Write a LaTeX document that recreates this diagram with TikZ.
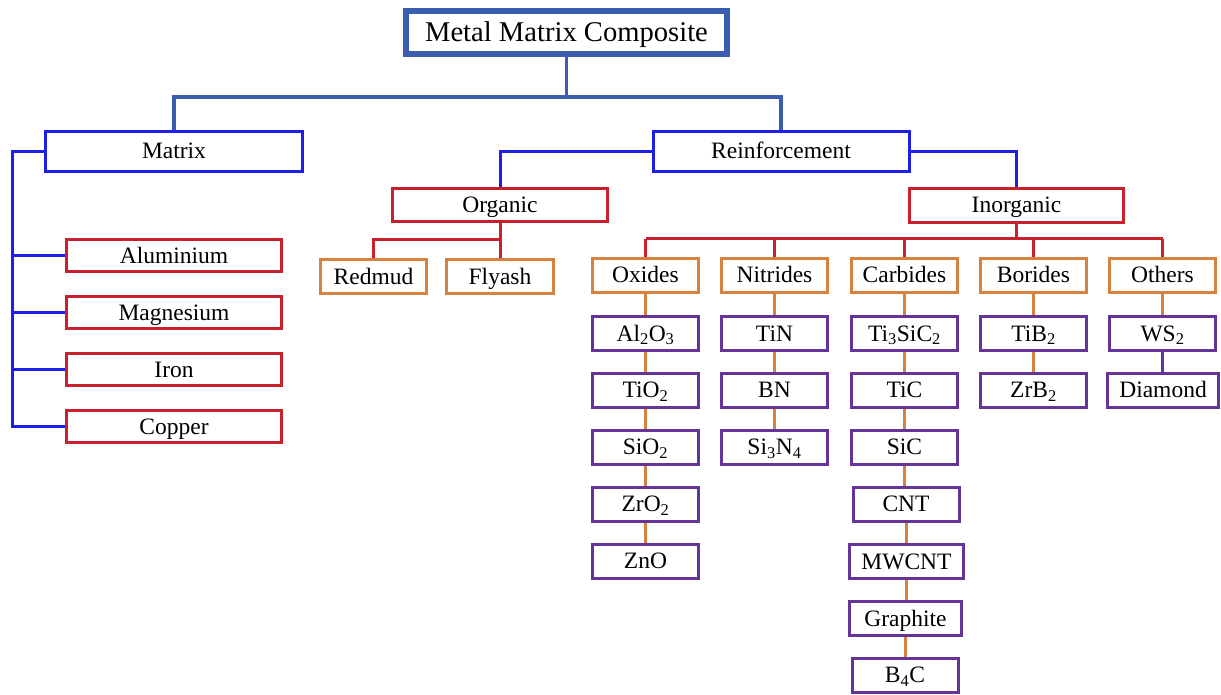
\documentclass[tikz,border=0pt]{standalone}
\usepackage{fontspec}
\setmainfont{Liberation Serif}
\definecolor{topblue}{RGB}{58,93,176}
\definecolor{mblue}{RGB}{30,30,228}
\definecolor{mred}{RGB}{200,32,44}
\definecolor{morange}{RGB}{214,130,62}
\definecolor{mpurple}{RGB}{102,52,152}
\begin{document}
\begin{tikzpicture}[x=1pt,y=-1pt,
  box/.style={draw, fill=white, inner sep=0pt, line width=3pt, minimum height=34pt,
              text height=17pt, text depth=2pt,
              font=\fontsize{23.5}{28}\selectfont},
  topbox/.style={box, draw=topblue, line width=5.5pt, minimum width=321pt, minimum height=43pt,
              text height=21pt, text depth=2pt,
              font=\fontsize{28.6}{34}\selectfont},
  bluebox/.style={box, draw=mblue, minimum width=257pt, minimum height=40pt},
  redbox/.style={box, draw=mred},
  orbox/.style={box, draw=morange, minimum width=106pt},
  pubox/.style={box, draw=mpurple, minimum width=106pt},
  topline/.style={draw=topblue, line width=3.5pt},
  blueline/.style={draw=mblue, line width=3pt},
  redline/.style={draw=mred, line width=3pt},
  orline/.style={draw=morange, line width=3pt},
  puline/.style={draw=mpurple, line width=3pt}
]
\useasboundingbox (0,0) rectangle (1221,695);

% helper coordinates for bus levels
\coordinate (hy) at (0,97);
\coordinate (mbus) at (12,0);
\coordinate (oy) at (0,240);
\coordinate (iy) at (0,239);

% ---------- boxes ----------
\node[topbox] (top) at (566.5,32.5) {Metal Matrix Composite};
\node[bluebox] (matrix) at (174,151.5) {Matrix};
\node[bluebox, minimum width=256pt] (reinf) at (781,151.5) {Reinforcement};

\node[redbox, minimum width=215pt, minimum height=33pt] (organic) at (500,205.5) {Organic};
\node[redbox, minimum width=214pt] (inorg) at (1016.5,205.5) {Inorganic};

\node[redbox, minimum width=215pt, minimum height=32pt] (alu) at (174,255.5) {Aluminium};
\node[redbox, minimum width=215pt, minimum height=32pt] (mag) at (174,312.5) {Magnesium};
\node[redbox, minimum width=215pt, minimum height=32pt] (iron) at (174,369.5) {Iron};
\node[redbox, minimum width=215pt, minimum height=32pt] (copper) at (174,426.5) {Copper};

\node[orbox] (redmud) at (373.5,276.5) {Redmud};
\node[orbox, minimum width=107pt] (flyash) at (500,276.5) {Flyash};

\node[orbox] (oxides) at (645.5,275.5) {Oxides};
\node[orbox] (nitrides) at (774.5,275.5) {Nitrides};
\node[orbox] (carbides) at (904.5,275.5) {Carbides};
\node[orbox] (borides) at (1033.5,275.5) {Borides};
\node[orbox] (others) at (1162.5,275.5) {Others};

% Oxides column
\node[pubox] (ox1) at (645.5,333.5) {Al\textsubscript{2}O\textsubscript{3}};
\node[pubox] (ox2) at (645.5,390) {TiO\textsubscript{2}};
\node[pubox] (ox3) at (645.5,447) {SiO\textsubscript{2}};
\node[pubox] (ox4) at (645.5,504) {ZrO\textsubscript{2}};
\node[pubox] (ox5) at (645.5,561) {ZnO};
% Nitrides column
\node[pubox] (ni1) at (774.5,333.5) {TiN};
\node[pubox] (ni2) at (774.5,390) {BN};
\node[pubox] (ni3) at (774.5,447) {Si\textsubscript{3}N\textsubscript{4}};
% Carbides column
\node[pubox] (ca1) at (904.5,333.5) {Ti\textsubscript{3}SiC\textsubscript{2}};
\node[pubox] (ca2) at (904.5,390) {TiC};
\node[pubox] (ca3) at (904.5,447) {SiC};
\node[pubox] (ca4) at (906,504) {CNT};
\node[pubox, minimum width=114pt] (ca5) at (906.5,561.5) {MWCNT};
\node[pubox, minimum width=112pt] (ca6) at (905.5,618.5) {Graphite};
\node[pubox] (ca7) at (905,675) {B\textsubscript{4}C};
% Borides column
\node[pubox] (bo1) at (1033.5,333.5) {TiB\textsubscript{2}};
\node[pubox] (bo2) at (1033.5,390) {ZrB\textsubscript{2}};
% Others column
\node[pubox] (ot1) at (1162.5,333.5) {WS\textsubscript{2}};
\node[pubox, minimum width=111pt] (ot2) at (1163,390) {Diamond};

% ---------- connectors ----------
\path[topline] (top.south) -- (top.south |- hy) -| (matrix.north);
\path[topline] (top.south |- hy) -| (reinf.north);

\path[blueline] (matrix.west) -- (matrix.west -| mbus) |- (copper.west);
\path[blueline] (mbus |- alu.west) -- (alu.west);
\path[blueline] (mbus |- mag.west) -- (mag.west);
\path[blueline] (mbus |- iron.west) -- (iron.west);

\path[blueline] (reinf.west) -| (organic.north);
\path[blueline] (reinf.east) -| (inorg.north);

\path[redline] (organic.south) -- (organic.south |- oy) -| (redmud.north);
\path[redline] (organic.south) -- (flyash.north);

\path[redline] (inorg.south) -- (inorg.south |- iy);
\path[redline] (oxides.north |- iy) -- (others.north |- iy);
\foreach \c in {oxides,nitrides,carbides,borides,others}
  \path[redline] (\c.north |- iy) -- (\c.north);

\path[orline] (oxides.south) -- (ox1.north);
\path[orline] (ox1.south) -- (ox2.north);
\path[orline] (ox2.south) -- (ox3.north);
\path[orline] (ox3.south) -- (ox4.north);
\path[orline] (ox4.south) -- (ox5.north);

\path[orline] (nitrides.south) -- (ni1.north);
\path[orline] (ni1.south) -- (ni2.north);
\path[orline] (ni2.south) -- (ni3.north);

\path[orline] (carbides.south) -- (ca1.north);
\path[orline] (ca1.south) -- (ca2.north);
\path[orline] (ca2.south) -- (ca3.north);
\path[orline] (ca3.south) -- (ca4.north -| ca3.south);
\path[orline] (ca4.south) -- (ca5.north -| ca4.south);
\path[orline] (ca5.south) -- (ca6.north -| ca5.south);
\path[orline] (ca6.south) -- (ca7.north -| ca6.south);

\path[orline] (borides.south) -- (bo1.north);
\path[orline] (bo1.south) -- (bo2.north);

\path[orline] (others.south) -- (ot1.north);
\path[puline] (ot1.south) -- (ot2.north -| ot1.south);
\end{tikzpicture}
\end{document}
